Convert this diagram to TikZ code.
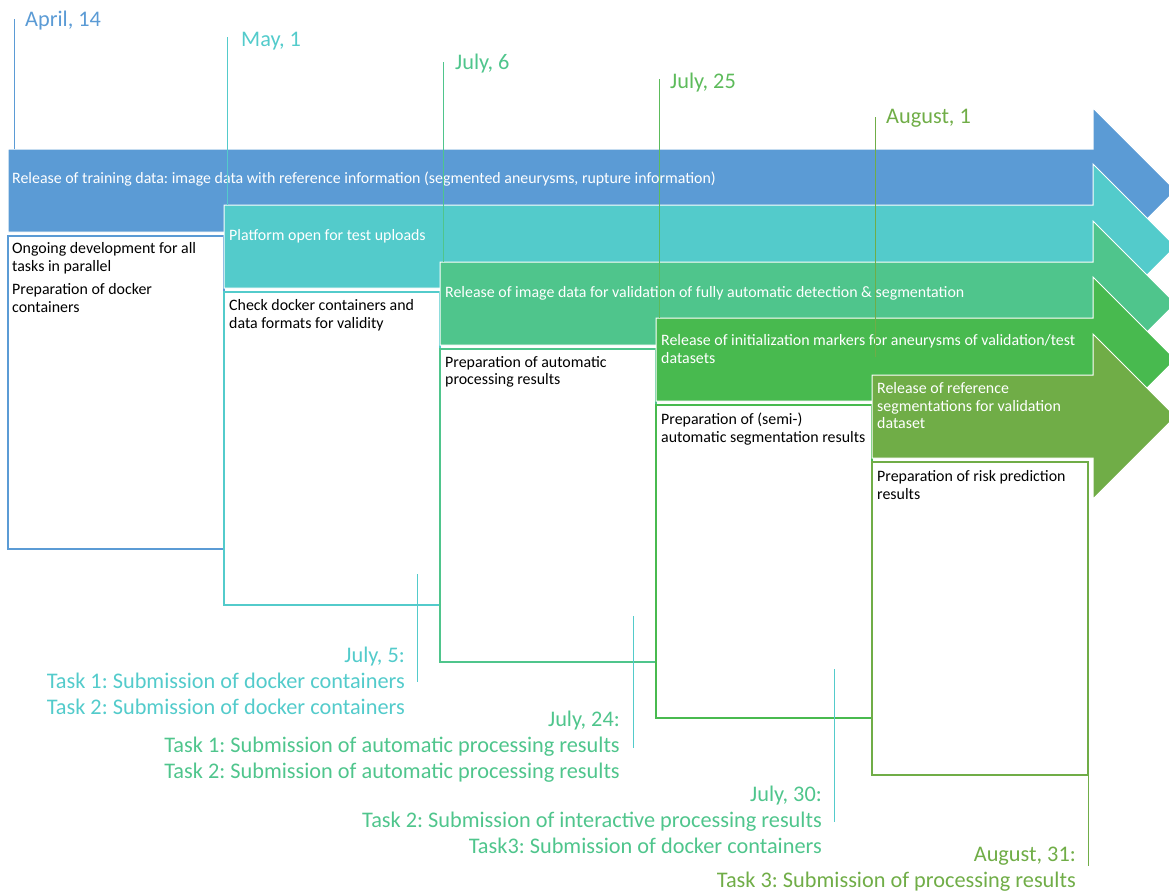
\documentclass[tikz,border=0pt]{standalone}
\usepackage{fontspec}
\setmainfont{Carlito}
\frenchspacing
\definecolor{cblue}{HTML}{5B9BD5}
\definecolor{ccyan}{HTML}{53CBCB}
\definecolor{cteal}{HTML}{4FC58C}
\definecolor{cgreen}{HTML}{48BA4F}
\definecolor{cgreentxt}{HTML}{5DBB5B}
\definecolor{colive}{HTML}{70AD47}
\tikzset{
  bar/.style={draw=white, line width=1pt},
  boxline/.style={line width=1.4pt},
  dateline/.style={line width=0.8pt},
  bartext/.style={anchor=north west, inner sep=0pt, align=left, text=white, font=\fontsize{15.9}{17.8}\selectfont},
  boxtext/.style={anchor=north west, inner sep=0pt, align=left, font=\fontsize{15.9}{17.8}\selectfont},
  datetext/.style={anchor=base west, inner sep=0pt, font=\fontsize{22.3}{26}\selectfont},
  duetext/.style={anchor=north east, inner sep=0pt, align=right, font=\fontsize{22.3}{26}\selectfont}
}
\begin{document}
\begin{tikzpicture}[x=1pt, y=-1pt]
\useasboundingbox (0,0) rectangle (1169,894);
\clip (0,0) rectangle (1169,894);

% boxes below the bars
\draw[boxline, cblue] (8,236) rectangle (224,549);
\draw[boxline, ccyan] (224,292) rectangle (440,605);
\draw[boxline, cteal] (440,349) rectangle (656,662);
\draw[boxline, cgreen] (656,405) rectangle (872,718);
\draw[boxline, colive] (872,462) rectangle (1088,775);

% bars
\path[bar, fill=cblue] (8,149) -- (1093,149) -- (1093,108) -- (1175.5,190.5) -- (1093,273) -- (1093,232) -- (8,232) -- cycle;
\path[bar, fill=ccyan] (224,205) -- (1093,205) -- (1093,164) -- (1175.5,246.5) -- (1093,329) -- (1093,288) -- (224,288) -- cycle;
\path[bar, fill=cteal] (440,262) -- (1093,262) -- (1093,221) -- (1175.5,303.5) -- (1093,386) -- (1093,345) -- (440,345) -- cycle;
\path[bar, fill=cgreen] (656,318) -- (1093,318) -- (1093,277) -- (1175.5,359.5) -- (1093,442) -- (1093,401) -- (656,401) -- cycle;
\path[bar, fill=colive] (872,375) -- (1093,375) -- (1093,334) -- (1175.5,416.5) -- (1093,499) -- (1093,458) -- (872,458) -- cycle;

\node[bartext] (rel1) at (12,172) {Release of training data: image data with reference information (segmented aneurysms, rupture information)};
\node[bartext] (rel2) at (229,229) {Platform open for test uploads};
\node[bartext] (rel3) at (445,286) {Release of image data for validation of fully automatic detection \& segmentation};
\node[bartext] (rel4) at (661,334) {Release of initialization markers for aneurysms of validation/test\\datasets};
\node[bartext] (rel5) at (877,382) {Release of reference\\segmentations for validation\\dataset};

\node[boxtext] (prep1) at (12,242) {Ongoing development for all\\tasks in parallel\\[6pt]Preparation of docker\\containers};
\node[boxtext] (prep2) at (229,299) {Check docker containers and\\data formats for validity};
\node[boxtext] (prep3) at (445,356) {Preparation of automatic\\processing results};
\node[boxtext] (prep4) at (661,413) {Preparation of (semi-)\\automatic segmentation results};
\node[boxtext] (prep5) at (877,470) {Preparation of risk prediction\\results};

% start dates
\coordinate (apr14t) at (14,19);
\coordinate (apr14b) at (14,149);
\coordinate (may1t) at (227,37);
\coordinate (may1b) at (227,205);
\coordinate (jul6t) at (443,62);
\coordinate (jul6b) at (443,262);
\coordinate (jul25t) at (659,79);
\coordinate (jul25b) at (659,318);
\coordinate (aug1t) at (875,117);
\coordinate (aug1b) at (875,357);
\draw[dateline, cblue] (apr14t) -- (apr14b);
\draw[dateline, ccyan] (may1t) -- (may1b);
\draw[dateline, cteal] (jul6t) -- (jul6b);
\draw[dateline, cgreentxt] (jul25t) -- (jul25b);
\draw[dateline, colive] (aug1t) -- (aug1b);
\node[datetext, cblue] (apr14) at (25,26) {April, 14};
\node[datetext, ccyan] (may1) at (241,46) {May, 1};
\node[datetext, cteal] (jul6) at (455,69) {July, 6};
\node[datetext, cgreentxt] (jul25) at (670,88) {July, 25};
\node[datetext, colive] (aug1) at (886,123) {August, 1};

% due dates
\coordinate (jul5t) at (417,574);
\coordinate (jul5b) at (417,682);
\coordinate (jul24t) at (633,616);
\coordinate (jul24b) at (633,748);
\coordinate (jul30t) at (834,669);
\coordinate (jul30b) at (834,822);
\coordinate (aug31t) at (1088,775);
\coordinate (aug31b) at (1088,866);
\draw[dateline, ccyan] (jul5t) -- (jul5b);
\draw[dateline, ccyan] (jul24t) -- (jul24b);
\draw[dateline, ccyan] (jul30t) -- (jul30b);
\draw[dateline, colive] (aug31t) -- (aug31b);
\node[duetext, ccyan] (jul5) at (405,647) {July, 5:\\Task 1: Submission of docker containers\\Task 2: Submission of docker containers};
\node[duetext, cteal] (jul24) at (620,711) {July, 24:\\Task 1: Submission of automatic processing results\\Task 2: Submission of automatic processing results};
\node[duetext, cteal] (jul30) at (822,786) {July, 30:\\Task 2: Submission of interactive processing results\\Task3: Submission of docker containers};
\node[duetext, colive] (aug31) at (1076,847) {August, 31:\\Task 3: Submission of processing results};

\end{tikzpicture}
\end{document}
